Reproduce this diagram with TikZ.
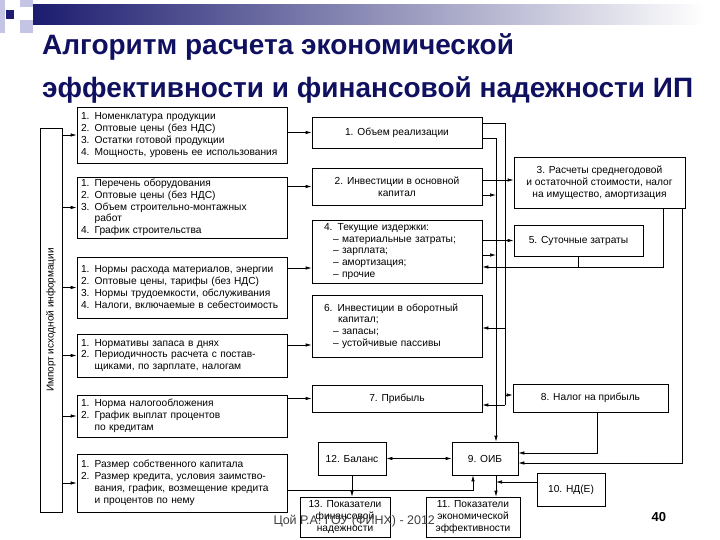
\documentclass[tikz,border=0pt]{standalone}
\usepackage{fontspec}
\setmainfont{Liberation Sans}
\usetikzlibrary{positioning, arrows.meta, calc}
\definecolor{TitleColor}{RGB}{16,16,96}
\definecolor{BarColor}{RGB}{28,28,112}
\definecolor{SquareColor}{RGB}{196,196,228}
\tikzset{
    blk/.style={
        rectangle,
        draw=black,
        line width=0.7pt,
        inner sep=2pt,
        align=center,
        font=\fontsize{10.2}{11.8}\selectfont
    },
    inbox/.style={blk, minimum width=210pt, text width=202pt, align=left},
    midbox/.style={blk, minimum width=170pt},
    title/.style={font=\fontsize{28}{30}\selectfont\bfseries, text=TitleColor, inner sep=0pt, anchor=base west},
    arr/.style={-{Latex[length=6pt,width=3.5pt]}, line width=0.7pt},
    dbl/.style={{Latex[length=6pt,width=3.5pt]}-{Latex[length=6pt,width=3.5pt]}, line width=0.7pt},
    wire/.style={line width=0.7pt}
}

\begin{document}
\begin{tikzpicture}[x=1pt, y=-1pt]
\useasboundingbox (0,0) rectangle (720,540);

% Header
\fill[SquareColor] (0,0) rectangle (5,33);
\fill[SquareColor] (20,0) rectangle (33,7);
\fill[SquareColor] (20,20) rectangle (33,33);
\fill[BarColor] (6,10) rectangle (14,19);
\shade[left color=BarColor, right color=white] (33,5) rectangle (705,25);
\node[title] (title1) at (42,55) {Алгоритм расчета экономической};
\node[title] (title2) at (42,98) {эффективности и финансовой надежности ИП};

% Import of source data
\node[draw, line width=0.7pt, minimum width=22pt, minimum height=384pt] (l_import) at (51,320) {};
\node[rotate=90, font=\fontsize{10}{12}\selectfont] (import_txt) at (l_import) {Импорт исходной информации};

% Input blocks
\node[inbox, minimum height=56pt] (l_prod) at (182,135) {1. Номенклатура продукции\\2. Оптовые цены (без НДС)\\3. Остатки готовой продукции\\4. Мощность, уровень ее использования};
\node[inbox, minimum height=61pt] (l_equip) at (182,207.5) {1. Перечень оборудования\\2. Оптовые цены (без НДС)\\3. Объем строительно-монтажных\\\phantom{3. }работ\\4. График строительства};
\node[inbox, minimum height=61pt] (l_norms) at (182,287.5) {1. Нормы расхода материалов, энергии\\2. Оптовые цены, тарифы (без НДС)\\3. Нормы трудоемкости, обслуживания\\4. Налоги, включаемые в себестоимость};
\node[inbox, minimum height=43pt] (l_stock) at (182,355.5) {1. Нормативы запаса в днях\\2. Периодичность расчета с постав-\\\phantom{2. }щиками, по зарплате, налогам};
\node[inbox, minimum height=42pt] (l_tax) at (182,416) {1. Норма налогообложения\\2. График выплат процентов\\\phantom{2. }по кредитам};
\node[inbox, minimum height=58pt] (l_credit) at (182,483) {1. Размер собственного капитала\\2. Размер кредита, условия заимство-\\\phantom{2. }вания, график, возмещение кредита\\\phantom{2. }и процентов по нему};

% Calculation blocks
\node[midbox, minimum height=31pt] (b_sales) at (397,132.5) {1. Объем реализации};
\node[midbox, minimum height=37pt] (b_fixinv) at (397,186.5) {2. Инвестиции в основной\\капитал};
\node[midbox, minimum height=63pt, text width=146pt, align=left] (b_costs) at (397,251.5) {4. Текущие издержки:\\\hspace*{9pt}– материальные затраты;\\\hspace*{9pt}– зарплата;\\\hspace*{9pt}– амортизация;\\\hspace*{9pt}– прочие};
\node[midbox, minimum height=62pt, text width=146pt, align=left] (b_workcap) at (397,326) {6. Инвестиции в оборотный\\\hspace*{14pt}капитал;\\\hspace*{9pt}– запасы;\\\hspace*{9pt}– устойчивые пассивы};
\node[midbox, minimum height=27pt] (b_profit) at (397,398.5) {7. Прибыль};
\node[blk, minimum width=171pt, minimum height=51pt] (b_depr) at (599.5,182.5) {3. Расчеты среднегодовой\\и остаточной стоимости, налог\\на имущество, амортизация};
\node[blk, minimum width=129pt, minimum height=31pt] (b_daily) at (578.5,240.5) {5. Суточные затраты};
\node[blk, minimum width=155pt, minimum height=28pt] (b_ptax) at (590.5,398) {8. Налог на прибыль};
\node[blk, minimum width=68pt, minimum height=33pt] (b_bal) at (352,458.5) {12. Баланс};
\node[blk, minimum width=66pt, minimum height=33pt] (b_oib) at (485,458.5) {9. ОИБ};
\node[blk, minimum width=68pt, minimum height=33pt] (b_nd) at (571,490) {10. НД(Е)};
\node[blk, minimum width=90pt, minimum height=40pt] (b_rel) at (345,517) {13. Показатели\\финансовой\\надежности};
\node[blk, minimum width=94pt, minimum height=40pt] (b_eff) at (473,517) {11. Показатели\\экономической\\эффективности};

% Import arrows
\foreach \n in {l_prod, l_equip, l_norms, l_stock, l_tax, l_credit}
    \draw[arr] (l_import.east |- \n.west) -- (\n.west);

% Inputs to calculations
\draw[arr] (l_prod.east |- b_sales) -- (b_sales.west);
\draw[arr] (l_equip.east |- b_fixinv) -- (b_fixinv.west);
\draw[arr] (l_norms.east |- 0,268) -- (b_costs.west |- 0,268);
\draw[arr] (l_stock.east |- 0,345) -- (b_workcap.west |- 0,345);
\draw[arr] (l_tax.east |- b_profit) -- (b_profit.west);
\draw[arr] (l_credit.east |- 0,490) -| (b_oib.south -| 473,0);

% Right-hand buses
\coordinate (busA) at (505,123);
\coordinate (busB) at (496,138);
\draw[wire] (b_sales.east |- busA) -- (busA) -- (busA |- 0,405);
\draw[arr] (busA |- 0,395) -- (b_ptax.west |- 0,395);
\draw[arr] (busA |- 0,405) -- (b_profit.east |- 0,405);
\draw[arr] (busA |- 0,328) -- (b_workcap.east |- 0,328);
\draw[arr] (b_sales.east |- busB) -- (busB) -- (busB |- b_oib.north);
\draw[arr] (b_fixinv.east |- 0,180) -- (b_depr.west |- 0,180);
\draw[arr] (b_fixinv.east |- 0,195) -- (busB |- 0,195);
\draw[arr] (b_costs.east |- b_daily) -- (b_daily.west);
\draw[arr] (b_costs.east |- 0,255) -- (busB |- 0,255);
\draw[arr] (b_depr.south -| 663,0) |- (b_costs.east |- 0,267);
\draw[wire] (b_daily.south) -- (b_daily.south |- 0,267);
\draw[arr] (b_depr.south -| 682,0) |- (b_oib.east |- 0,463);
\draw[arr] (b_ptax.south -| 597,0) |- (b_oib.east |- 0,453);

% Results
\draw[dbl] (b_bal.east) -- (b_oib.west);
\draw[arr] (b_bal.south) -- (b_bal.south |- b_rel.north);
\draw[arr] (b_oib.south -| busB) -- (b_eff.north -| busB);
\draw[arr] (b_nd.west |- 0,482) -- (busB |- 0,482);

% Footer
\node[font=\fontsize{12.5}{14}\selectfont, text=black!75, anchor=base west] (footer) at (270,524) {Цой Р.А. ГОУ (ФИНХ) - 2012};
\node[font=\fontsize{13}{15}\selectfont\bfseries, anchor=base west] (pagenum) at (648,521) {40};
\end{tikzpicture}
\end{document}
